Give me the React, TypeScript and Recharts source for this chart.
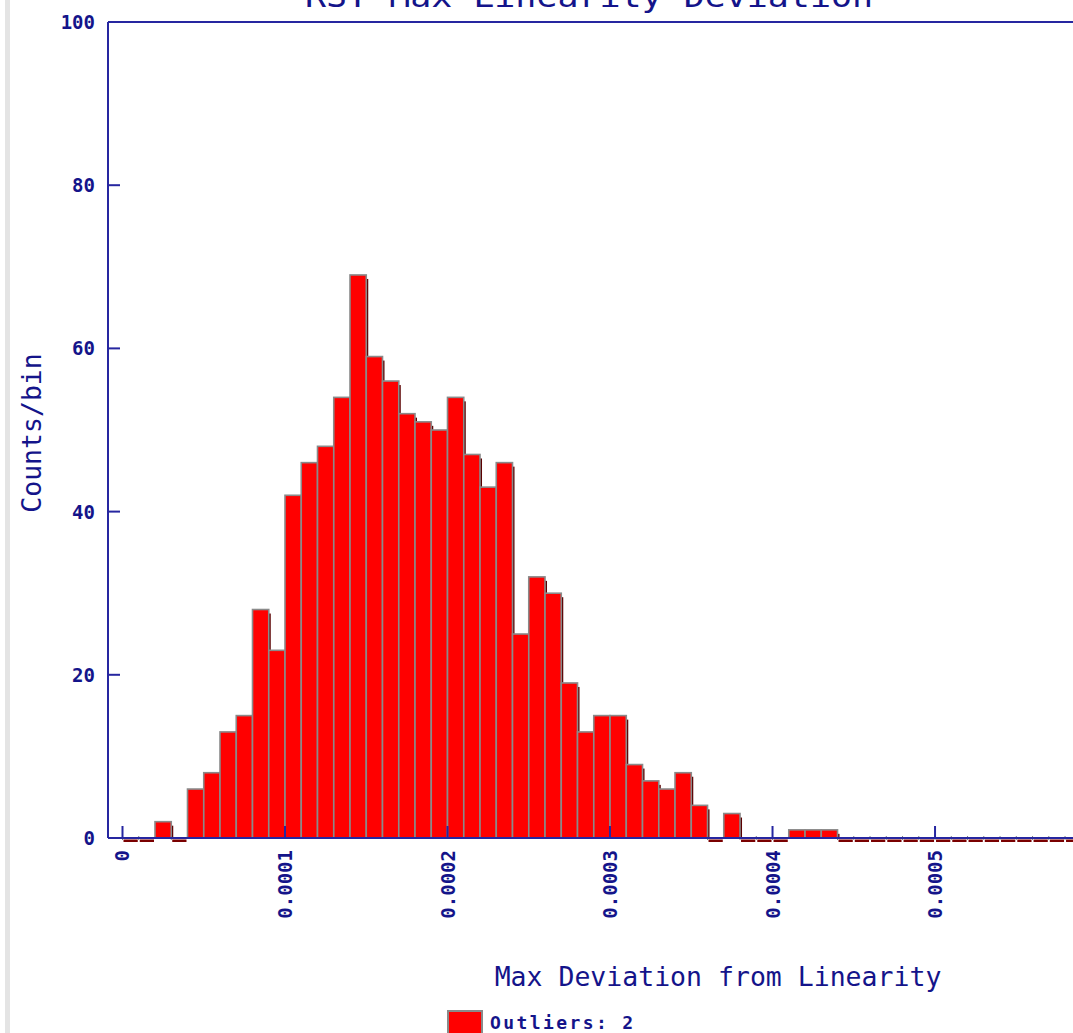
import React from 'react';
import { BarChart, Bar, XAxis, YAxis, ReferenceLine } from 'recharts';

const NAVY = '#14148a';
const AXIS = '#2626a0';
const MONO = '"DejaVu Sans Mono", "Liberation Mono", monospace';

// histogram bins of width 0.00001 (centres)
const binCenters = [
  0.5e-5, 1.5e-5, 2.5e-5, 3.5e-5, 4.5e-5, 5.5e-5, 6.5e-5, 7.5e-5, 8.5e-5, 9.5e-5,
  10.5e-5, 11.5e-5, 12.5e-5, 13.5e-5, 14.5e-5, 15.5e-5, 16.5e-5, 17.5e-5, 18.5e-5, 19.5e-5,
  20.5e-5, 21.5e-5, 22.5e-5, 23.5e-5, 24.5e-5, 25.5e-5, 26.5e-5, 27.5e-5, 28.5e-5, 29.5e-5,
  30.5e-5, 31.5e-5, 32.5e-5, 33.5e-5, 34.5e-5, 35.5e-5, 36.5e-5, 37.5e-5, 38.5e-5, 39.5e-5,
  40.5e-5, 41.5e-5, 42.5e-5, 43.5e-5, 44.5e-5, 45.5e-5, 46.5e-5, 47.5e-5, 48.5e-5, 49.5e-5,
  50.5e-5, 51.5e-5, 52.5e-5, 53.5e-5, 54.5e-5, 55.5e-5, 56.5e-5, 57.5e-5, 58.5e-5,
];
const counts = [
  0, 0, 2, 0, 6, 8, 13, 15, 28, 23,
  42, 46, 48, 54, 69, 59, 56, 52, 51, 50,
  54, 47, 43, 46, 25, 32, 30, 19, 13, 15,
  15, 9, 7, 6, 8, 4, 0, 3, 0, 0,
  0, 1, 1, 1, 0, 0, 0, 0, 0, 0,
  0, 0, 0, 0, 0, 0, 0, 0, 0,
];
const xTicks = [0, 0.0001, 0.0002, 0.0003, 0.0004, 0.0005];
const xTickLabels = ['0', '0.0001', '0.0002', '0.0003', '0.0004', '0.0005'];
const yTicks = [0, 20, 40, 60, 80, 100];

const titleText = 'RST Max Linearity Deviation';
const xLabel = 'Max Deviation from Linearity';
const yLabel = 'Counts/bin';
const legendText = 'Outliers: 2';

const data = binCenters.map((x, i) => ({ x, count: counts[i] }));

const BarShape = (props: any) => {
  const { x, y, width, height, count } = props;
  if (!count) {
    return (
      <g>
        <rect x={x + 1} y={y + 1.5} width={Math.max(width - 2, 0)} height={2.5} fill="#7a0000" />
        <line x1={x} x2={x} y1={y - 2} y2={y + 2} stroke="#808080" strokeWidth={1} />
      </g>
    );
  }
  return (
    <g>
      <rect x={x + width} y={y + 4} width={2} height={Math.max(height - 4, 0)} fill="#5a0000" />
      <rect x={x} y={y} width={width} height={height} fill="#ff0000" stroke="#8a8a8a" strokeWidth={1.6} />
    </g>
  );
};

const YTick = (props: any) => {
  const { x, y, payload } = props;
  return (
    <g>
      <text x={x} y={y} dy={7} textAnchor="end" fill={NAVY} fontFamily={MONO} fontWeight="bold" fontSize={19}>
        {payload.value}
      </text>
      {payload.value !== 0 && payload.value !== 100 && (
        <line x1={x + 13} x2={x + 25} y1={y} y2={y} stroke={AXIS} strokeWidth={2} />
      )}
    </g>
  );
};

const XTick = (props: any) => {
  const { x, y, payload, index } = props;
  const label = xTickLabels[xTicks.indexOf(payload.value)] ?? String(payload.value);
  return (
    <g>
      <text
        x={x}
        y={y}
        dy={0}
        textAnchor="end"
        fill={NAVY}
        fontFamily={MONO}
        fontWeight="bold"
        fontSize={19}
        transform={`rotate(-90, ${x}, ${y})`}
        dominantBaseline="central"
      >
        {label}
      </text>
      <line x1={x} x2={x} y1={y - 12} y2={y - 24} stroke={AXIS} strokeWidth={2} />
    </g>
  );
};

export default function App() {
  return (
    <div style={{ position: 'absolute', left: 0, top: 0, width: 1073, height: 1033, overflow: 'hidden', background: '#fff' }}>
      <div style={{ position: 'absolute', left: 5, top: 0, width: 5, height: 1033, background: '#e4e4e4' }} />
      <div style={{ position: 'absolute', left: 0, top: 0 }}>
        <BarChart
          width={1073}
          height={1033}
          data={data}
          margin={{ top: 22, right: 0, bottom: 105, left: 8 }}
          barSize={16.25}
        >
          <XAxis
            dataKey="x"
            type="number"
            domain={[-0.00000892, 0.0005849]}
            allowDataOverflow
            ticks={xTicks}
            interval={0}
            height={90}
            tickSize={0}
            tickMargin={12}
            tick={<XTick />}
            axisLine={{ stroke: AXIS, strokeWidth: 2 }}
          />
          <YAxis
            type="number"
            domain={[0, 100]}
            ticks={yTicks}
            interval={0}
            width={100}
            tickSize={0}
            tickMargin={13}
            tick={<YTick />}
            axisLine={{ stroke: AXIS, strokeWidth: 2 }}
          />
          <Bar dataKey="count" isAnimationActive={false} shape={<BarShape />} />
          <ReferenceLine y={100} stroke={AXIS} strokeWidth={2} />
        </BarChart>
      </div>
      <svg width={1073} height={1033} style={{ position: 'absolute', left: 0, top: 0, pointerEvents: 'none' }}>
        <text x={305} y={7} textLength={568} lengthAdjust="spacingAndGlyphs" fill={NAVY} fontFamily={MONO} fontSize={30}>
          {titleText}
        </text>
        <text
          x={31}
          y={433}
          textAnchor="middle"
          dominantBaseline="central"
          fill={NAVY}
          fontFamily={MONO}
          fontSize={26.5}
          transform="rotate(-90, 31, 433)"
        >
          {yLabel}
        </text>
        <text x={718} y={986} textAnchor="middle" fill={NAVY} fontFamily={MONO} fontSize={26.5}>
          {xLabel}
        </text>
        <rect x={448} y={1011} width={34} height={30} fill="#ff0000" stroke="#8a8a8a" strokeWidth={2} />
        <text x={490} y={1029} fill={NAVY} fontFamily={MONO} fontWeight="bold" fontSize={18} letterSpacing={2.4}>
          {legendText}
        </text>
      </svg>
    </div>
  );
}
